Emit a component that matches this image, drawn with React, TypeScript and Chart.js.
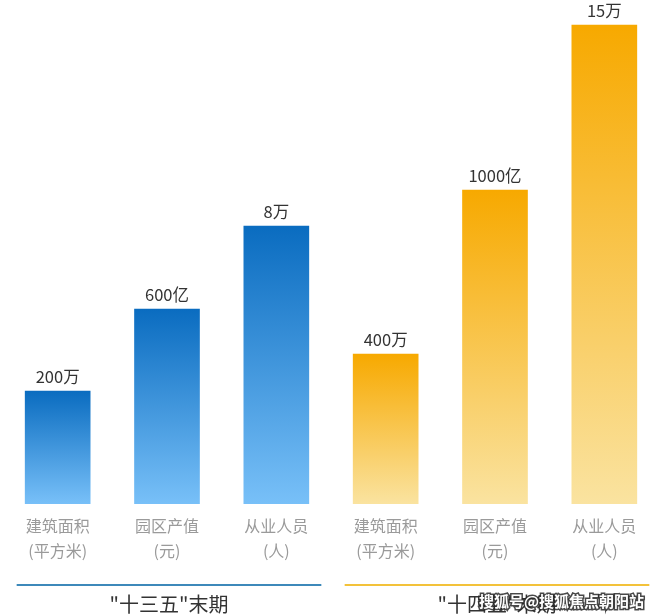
import React, { useEffect, useRef } from "react";
import { Chart, registerables } from "chart.js";

Chart.register(...registerables);

const categories: string[][] = [
  ["建筑面积", "(平方米)"],
  ["园区产值", "(元)"],
  ["从业人员", "(人)"],
  ["建筑面积", "(平方米)"],
  ["园区产值", "(元)"],
  ["从业人员", "(人)"],
];
// drawn bar heights (relative)
const barHeights: number[] = [113, 195, 278, 150, 314, 479];
const valueLabels: string[] = ["200万", "600亿", "8万", "400万", "1000亿", "15万"];
const groupLabels: string[] = ['"十三五"末期', '"十四五"末期'];
const groupOf: number[] = [0, 0, 0, 1, 1, 1];

const FONT = '"Noto Sans CJK SC", "Noto Sans", sans-serif';
const gradTop = ["#0a6cc0", "#f7a900"];
const gradBottom = ["#78c0f8", "#fae3a0"];
const lineColors = ["#3d89ba", "#f3c23a"];

export default function App() {
  const ref = useRef<HTMLCanvasElement | null>(null);
  useEffect(() => {
    if (!ref.current) return;
    const overlay = {
      id: "overlay",
      afterDatasetsDraw(chart: any) {
        const { ctx } = chart;
        const meta = chart.getDatasetMeta(0);
        ctx.save();
        ctx.font = `16.5px ${FONT}`;
        ctx.fillStyle = "#333";
        ctx.textAlign = "center";
        ctx.textBaseline = "bottom";
        meta.data.forEach((bar: any, i: number) => {
          ctx.fillText(valueLabels[i], bar.x, bar.y - 6);
        });
        // group lines and labels
        const xs = meta.data.map((b: any) => b.x);
        const lineY = 585;
        [0, 1].forEach((g) => {
          const idx = groupOf.map((v, i) => (v === g ? i : -1)).filter((i) => i >= 0);
          const x0 = xs[idx[0]] - 41;
          const x1 = xs[idx[idx.length - 1]] + 45;
          ctx.strokeStyle = lineColors[g];
          ctx.lineWidth = 2;
          ctx.beginPath();
          ctx.moveTo(x0, lineY);
          ctx.lineTo(x1, lineY);
          ctx.stroke();
          ctx.font = `20px ${FONT}`;
          ctx.fillStyle = "#333";
          ctx.textBaseline = "middle";
          ctx.fillText(groupLabels[g], (x0 + x1) / 2, 604);
        });
        // watermark
        ctx.font = `bold 15px ${FONT}`;
        ctx.textAlign = "left";
        ctx.lineWidth = 3;
        ctx.strokeStyle = "rgba(40,40,40,0.85)";
        ctx.fillStyle = "#fff";
        ctx.strokeText("搜狐号@搜狐焦点朝阳站", 479, 601);
        ctx.fillText("搜狐号@搜狐焦点朝阳站", 479, 601);
        ctx.restore();
      },
    };
    const chart = new Chart(ref.current, {
      type: "bar",
      data: {
        labels: categories,
        datasets: [
          {
            data: barHeights,
            barThickness: 65,
            borderWidth: 0,
            backgroundColor: (c: any) => {
              const ch = c.chart;
              const area = ch.chartArea;
              const g = groupOf[c.dataIndex] ?? 0;
              if (!area || c.dataIndex === undefined) return gradTop[g];
              const yScale = ch.scales.y;
              const top = yScale.getPixelForValue(barHeights[c.dataIndex]);
              const bottom = yScale.getPixelForValue(0);
              const grad = ch.ctx.createLinearGradient(0, top, 0, bottom);
              grad.addColorStop(0, gradTop[g]);
              grad.addColorStop(1, gradBottom[g]);
              return grad;
            },
          },
        ],
      },
      options: {
        animation: false,
        responsive: false,
        layout: { padding: { left: 3, right: 1, top: 0, bottom: 52 } },
        plugins: { legend: { display: false }, tooltip: { enabled: false } },
        scales: {
          x: {
            grid: { display: false },
            border: { display: false },
            ticks: {
              color: "#9a9a9a",
              font: { size: 16, family: FONT, lineHeight: 1.56 },
              padding: 1,
              maxRotation: 0,
              autoSkip: false,
            },
          },
          y: { display: false, min: 0, max: 504 },
        },
      },
      plugins: [overlay],
    });
    return () => chart.destroy();
  }, []);
  return (
    <div style={{ position: "absolute", left: 0, top: 0, width: 660, height: 616, background: "#fff" }}>
      <canvas ref={ref} width={660} height={616} style={{ display: "block" }} />
    </div>
  );
}
